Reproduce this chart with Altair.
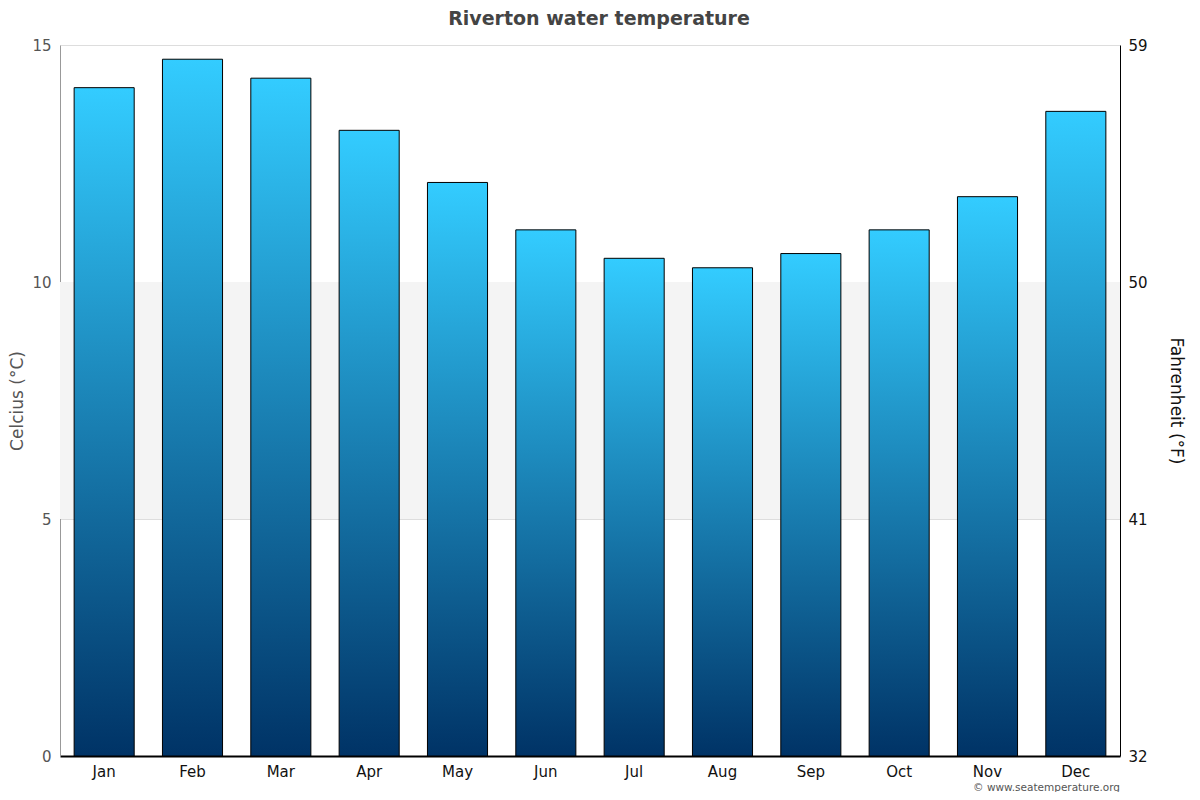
import altair as alt
import pandas as pd

months = ["Jan", "Feb", "Mar", "Apr", "May", "Jun", "Jul", "Aug", "Sep", "Oct", "Nov", "Dec"]
temps_c = [14.1, 14.7, 14.3, 13.2, 12.1, 11.1, 10.5, 10.3, 10.6, 11.1, 11.8, 13.6]
c_ticks = [0, 5, 10, 15]
f_ticks = [32, 41, 50, 59]
band_lo = [5]
band_hi = [10]

df = pd.DataFrame({"month": months, "c": temps_c})
band_df = pd.DataFrame({"lo": band_lo, "hi": band_hi})

FONT = "DejaVu Sans"
W, H = 1060, 711

grad = alt.Gradient(
    gradient="linear",
    stops=[alt.GradientStop(color="#003366", offset=0), alt.GradientStop(color="#33ccff", offset=1)],
    x1=1, x2=1, y1=1, y2=0,
)

yscale = alt.Scale(domain=[0, 15], nice=False)
yaxis = alt.Axis(values=c_ticks, labelFontSize=15, labelColor="#555", labelFont=FONT,
                 domainColor="#999", ticks=False, labelPadding=9, grid=True,
                 gridColor="#dddddd", titleFont=FONT, titleFontSize=17, titleColor="#555",
                 titleFontWeight="normal", titlePadding=5)
YTITLE = "Celcius (°C)"

band = alt.Chart(band_df).mark_rect(color="#f4f4f4").encode(
    y=alt.Y("lo:Q", scale=yscale, axis=yaxis, title=YTITLE),
    y2="hi:Q",
    x=alt.value(0),
    x2=alt.value(W),
)

bars = alt.Chart(df).mark_bar(color=grad, stroke="black", strokeWidth=1).encode(
    x=alt.X("month:N", sort=months, title=None,
            scale=alt.Scale(paddingInner=0.32, paddingOuter=0.16),
            axis=alt.Axis(labelAngle=0, labelFontSize=15, labelColor="#111", labelFont=FONT,
                          domainColor="black", domainWidth=2, ticks=False, labelPadding=8)),
    y=alt.Y("c:Q", scale=yscale, title=YTITLE, axis=yaxis),
)

credit = alt.Chart(pd.DataFrame({"t": ["© www.seatemperature.org"]})).mark_text(
    align="right", baseline="middle", fontSize=10.5, font=FONT, color="#555"
).encode(text="t:N", x=alt.value(W), y=alt.value(742.5))

fahr = alt.Chart(df).transform_calculate(f="datum.c * 9 / 5 + 32").mark_point(opacity=0).encode(
    x=alt.X("month:N", sort=months),
    y=alt.Y("f:Q", scale=alt.Scale(domain=[32, 59], nice=False), title="Fahrenheit (°F)",
            axis=alt.Axis(orient="right", values=f_ticks, labelFontSize=15, labelColor="#111",
                          labelFont=FONT, domainColor="black", ticks=False, labelPadding=8,
                          grid=False, titleFont=FONT, titleFontSize=17, titleColor="#111",
                          titleFontWeight="normal", titlePadding=19)),
)

chart = alt.layer(alt.layer(band, bars, credit), fahr).resolve_scale(y="independent").properties(
    width=W, height=H,
    title=alt.TitleParams("Riverton water temperature", fontSize=19, fontWeight="bold",
                          color="#444", font=FONT, offset=9, dx=9, frame="group"),
    autosize=alt.AutoSizeParams(type="none"),
    padding={"left": 52, "top": 37, "right": 72, "bottom": 36},
).configure_view(stroke=None)

chart.save("out.html", embed_options={"renderer": "svg", "actions": False})
